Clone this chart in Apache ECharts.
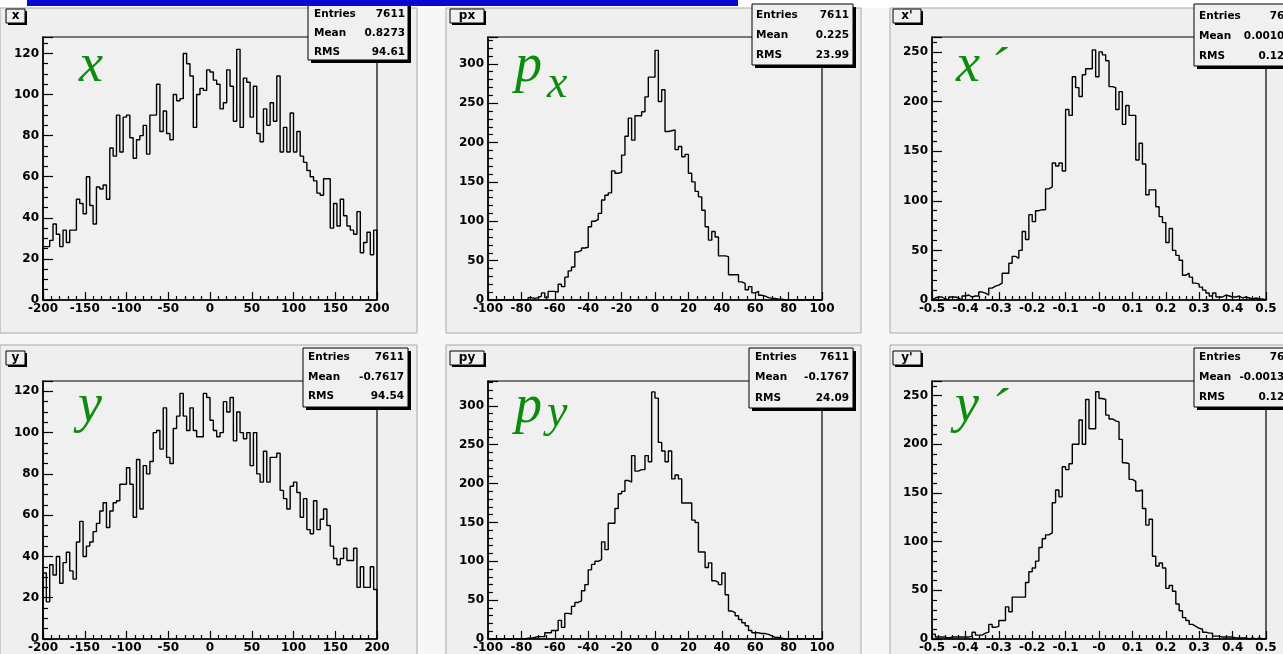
<!DOCTYPE html>
<html>
<head>
<meta charset="utf-8">
<script src="https://cdn.jsdelivr.net/npm/echarts@6.0.0/dist/echarts.min.js"></script>
<style>
  html, body { margin: 0; padding: 0; background: #f7f7f7; }
  #chart { width: 1283px; height: 654px; }
</style>
</head>
<body>
<div id="chart"></div>
<script>
// bin contents, 100 bins per histogram
const xCounts = [26,26,29,37,32,26,34,28,34,34, 49,47,42,60,46,37,55,54,56,49,
  74,70,90,72,89,90,79,69,78,80, 85,71,90,90,105,82,92,81,78,100,
  97,98,120,115,109,84,100,103,102,112, 111,107,105,93,96,112,104,87,122,84,
  108,106,89,104,81,77,93,85,96,87, 109,72,84,72,91,72,82,70,67,63,
  60,58,52,51,59,59,35,47,36,49, 41,36,34,32,43,23,28,33,22,34];
const pxCounts = [0,0,0,0,0,0,0,0,0,0, 0,0,3,2,3,5,9,3,11,11,
  10,20,17,29,37,42,61,63,66,67, 93,100,102,110,127,133,136,164,161,162,
  184,208,231,203,234,234,239,258,283,283, 317,252,267,214,215,216,191,195,182,185,
  161,150,138,131,114,93,76,87,80,56, 56,55,32,32,32,23,21,13,17,9,
  11,6,5,3,2,2,1,1,0,0, 0,0,0,0,0,0,0,0,0,0];
const xpCounts = [2,3,3,1,0,3,3,2,0,4, 5,3,4,4,8,7,5,12,14,15,
  17,27,27,37,44,42,50,69,61,86, 79,90,91,91,112,114,138,135,138,130,
  192,186,225,214,205,227,233,233,252,225, 250,247,241,215,214,192,210,177,196,186,
  186,141,158,137,106,111,111,94,84,78, 58,72,50,45,40,25,27,23,17,16,
  13,10,7,4,7,3,3,5,4,3, 3,4,2,3,2,1,2,1,1,0];
const yCounts = [32,18,36,31,40,27,37,42,33,29, 47,57,40,45,47,52,56,62,66,54,
  62,66,67,75,75,83,75,59,87,63, 84,80,86,100,101,92,112,88,85,102,
  108,119,108,101,112,101,98,98,119,117, 106,101,98,100,115,110,117,96,110,100,
  97,100,84,100,80,76,91,76,88,88, 90,72,68,63,74,76,71,59,68,53,
  51,67,53,58,63,55,45,39,36,39, 44,38,38,44,25,35,25,25,35,24];
const pyCounts = [0,0,0,0,0,0,0,0,0,0, 0,1,1,2,3,3,3,8,8,11,
  11,24,15,33,32,42,47,49,62,70, 89,96,100,102,125,115,149,149,168,187,
  190,204,202,236,216,218,218,236,228,318, 310,253,242,228,242,206,211,206,175,175,
  175,153,150,112,112,92,98,75,73,70, 85,57,36,34,30,25,21,17,11,8,
  8,7,7,6,4,2,2,1,0,0, 0,0,0,0,0,0,0,0,0,0];
const ypCounts = [5,2,2,2,1,2,2,2,2,2, 2,3,7,4,4,6,7,15,12,13,
  19,19,33,28,43,43,43,43,58,69, 73,80,94,103,107,109,140,153,146,177,
  174,180,200,200,225,200,246,216,216,254, 247,246,230,226,224,223,205,181,180,164,
  162,152,153,134,117,123,85,75,78,73, 52,55,49,36,29,22,19,15,13,11,
  10,7,6,6,3,3,2,2,2,2, 1,1,1,1,0,1,0,1,0,0];

// histogram titles and stat box contents
const titles = ['x', 'px', "x'", 'y', 'py', "y'"];
const statNames = ['Entries', 'Mean', 'RMS'];
const stats = [
  ['7611', '0.8273', '94.61'],
  ['7611', '0.225', '23.99'],
  ['7611', '0.001043', '0.1253'],
  ['7611', '-0.7617', '94.54'],
  ['7611', '-0.1767', '24.09'],
  ['7611', '-0.001311', '0.1251']
];

// layout of the six pads
const panels = [
  { counts: xCounts,  range: [-200, 200], xStep: 50,  xMinor: 5, yMax: 128, yStep: 20, yMinor: 4,
    pad: [0, 8, 417, 325],   grid: [43, 37, 334, 263],  title: [6, 9, 19, 14],
    stat: [308, -2, 100, 62],  statX: [314, 405],  statY: [14, 33, 52] },
  { counts: pxCounts, range: [-100, 100], xStep: 20,  xMinor: 4, yMax: 334, yStep: 50, yMinor: 5,
    pad: [446, 8, 415, 325], grid: [488, 37, 334, 263], title: [450, 9, 34, 14],
    stat: [752, 4, 101, 61],   statX: [756, 849],  statY: [15, 35, 55] },
  { counts: xpCounts, range: [-0.5, 0.5], xStep: 0.1, xMinor: 5, yMax: 265, yStep: 50, yMinor: 5, neg0: true,
    pad: [890, 8, 400, 325], grid: [932, 37, 334, 263], title: [893, 9, 28, 14],
    stat: [1194, 4, 120, 62],  statX: [1199, 1299], statY: [16, 36, 56] },
  { counts: yCounts,  range: [-200, 200], xStep: 50,  xMinor: 5, yMax: 125, yStep: 20, yMinor: 4,
    pad: [0, 345, 417, 320], grid: [43, 381, 334, 261],  title: [6, 351, 19, 14],
    stat: [303, 348, 105, 59], statX: [308, 404],  statY: [357, 377, 396] },
  { counts: pyCounts, range: [-100, 100], xStep: 20,  xMinor: 4, yMax: 332, yStep: 50, yMinor: 5,
    pad: [446, 345, 415, 320], grid: [488, 381, 334, 261], title: [450, 351, 34, 14],
    stat: [749, 348, 104, 60], statX: [755, 849],  statY: [357, 377, 398] },
  { counts: ypCounts, range: [-0.5, 0.5], xStep: 0.1, xMinor: 5, yMax: 265, yStep: 50, yMinor: 5, neg0: true,
    pad: [890, 345, 400, 320], grid: [932, 381, 334, 261], title: [893, 351, 28, 14],
    stat: [1194, 348, 120, 59], statX: [1199, 1299], statY: [357, 377, 397] }
];

const labelFont = { fontFamily: 'DejaVu Sans', fontWeight: 'bold', fontSize: 12, color: '#000' };
const statFont = 'bold 10.5px "DejaVu Sans"';

const grids = [], xAxes = [], yAxes = [], series = [], graphics = [];

graphics.push({ type: 'rect', z: -5, shape: { x: 0, y: 0, width: 1283, height: 8 }, style: { fill: '#ffffff' } });
graphics.push({ type: 'rect', z: 20, shape: { x: 27, y: 0, width: 711, height: 6 }, style: { fill: '#0808d6' } });

function boxWithShadow(x, y, w, h, sh) {
  return [
    { type: 'rect', z: 10, shape: { x: x + sh, y: y + sh, width: w, height: h }, style: { fill: '#000' } },
    { type: 'rect', z: 11, shape: { x: x, y: y, width: w, height: h }, style: { fill: '#f0f0f0', stroke: '#000', lineWidth: 1 } }
  ];
}

function txt(x, y, text, font, fill, align, vAlign, z) {
  return {
    type: 'text', z: z || 12, x: x, y: y,
    style: { text: text, font: font, fill: fill || '#000',
      textAlign: align || 'left', align: align || 'left',
      textVerticalAlign: vAlign || 'middle', verticalAlign: vAlign || 'middle' }
  };
}

panels.forEach((p, i) => {
  const [gl, gt, gw, gh] = p.grid;
  grids.push({ left: gl, top: gt, width: gw, height: gh, show: true,
    backgroundColor: '#f0f0f0', borderColor: '#000', borderWidth: 1.2 });

  xAxes.push({
    type: 'value', gridIndex: i, min: p.range[0], max: p.range[1], interval: p.xStep,
    axisLine: { show: true, onZero: false, lineStyle: { color: '#000', width: 1.5 } },
    axisTick: { show: true, inside: true, length: 8, lineStyle: { color: '#000', width: 1.2 } },
    minorTick: { show: true, splitNumber: p.xMinor, length: 4, lineStyle: { color: '#000', width: 1.2 } },
    splitLine: { show: false },
    axisLabel: Object.assign({ margin: 3, showMinLabel: true, showMaxLabel: true,
      formatter: v => (p.neg0 && Math.abs(v) < 1e-9) ? '-0' : String(parseFloat(v.toFixed(2))) }, labelFont)
  });

  yAxes.push({
    type: 'value', gridIndex: i, min: 0, max: p.yMax, interval: p.yStep,
    axisLine: { show: true, onZero: false, lineStyle: { color: '#000', width: 1.5 } },
    axisTick: { show: true, inside: true, length: 10, lineStyle: { color: '#000', width: 1.2 } },
    minorTick: { show: true, splitNumber: p.yMinor, length: 5, lineStyle: { color: '#000', width: 1.2 } },
    splitLine: { show: false },
    axisLabel: Object.assign({ margin: 4, showMaxLabel: false,
      formatter: v => (v % p.yStep === 0 ? String(v) : '') }, labelFont)
  });

  // outline of the histogram: left edges with bin content, closed at both ends
  const w = (p.range[1] - p.range[0]) / p.counts.length;
  const pts = [[p.range[0], 0]];
  p.counts.forEach((c, k) => pts.push([p.range[0] + k * w, c]));
  pts.push([p.range[1], p.counts[p.counts.length - 1]]);
  pts.push([p.range[1], 0]);
  series.push({
    type: 'line', xAxisIndex: i, yAxisIndex: i, data: pts, step: 'end',
    symbol: 'none', silent: true, animation: false,
    lineStyle: { color: '#000', width: 1.4 }
  });

  // pad background
  const [px, py, pw, ph] = p.pad;
  graphics.push({ type: 'rect', z: -4, shape: { x: px, y: py, width: pw, height: ph },
    style: { fill: '#efefef', stroke: '#a8a8a8', lineWidth: 1 } });

  // title box
  const [tx, ty, tw, th] = p.title;
  graphics.push(...boxWithShadow(tx, ty, tw, th, 2));
  graphics.push(txt(tx + tw / 2, ty + th / 2, titles[i], 'bold 12px "DejaVu Sans"', '#000', 'center'));

  // statistics box
  const [sx, sy, sw, sh] = p.stat;
  graphics.push(...boxWithShadow(sx, sy, sw, sh, 3));
  statNames.forEach((n, k) => {
    graphics.push(txt(p.statX[0], p.statY[k], n, statFont, '#000', 'left'));
    graphics.push(txt(p.statX[1], p.statY[k], stats[i][k], statFont, '#000', 'right'));
  });
});

// green axis names drawn inside the frames
const greenFont = 'italic 54px "Liberation Serif"';
const subFont = 'italic 46px "Liberation Serif"';
const green = '#0c8c0c';
graphics.push(txt(79, 67, 'x', greenFont, green, 'left', 'middle', 13));
graphics.push(txt(515, 67, 'p', greenFont, green, 'left', 'middle', 13));
graphics.push(txt(547, 85, 'x', subFont, green, 'left', 'middle', 13));
graphics.push(txt(956, 67, 'x', greenFont, green, 'left', 'middle', 13));
graphics.push(txt(989, 71, '\u00b4', greenFont, green, 'left', 'middle', 13));
graphics.push(txt(78, 407, 'y', greenFont, green, 'left', 'middle', 13));
graphics.push(txt(515, 408, 'p', greenFont, green, 'left', 'middle', 13));
graphics.push(txt(547, 414, 'y', subFont, green, 'left', 'middle', 13));
graphics.push(txt(955, 407, 'y', greenFont, green, 'left', 'middle', 13));
graphics.push(txt(990, 412, '\u00b4', greenFont, green, 'left', 'middle', 13));

const chart = echarts.init(document.getElementById('chart'), null, { renderer: 'canvas' });
chart.setOption({
  backgroundColor: '#f7f7f7',
  animation: false,
  grid: grids,
  xAxis: xAxes,
  yAxis: yAxes,
  series: series,
  graphic: { elements: graphics }
});
</script>
</body>
</html>
